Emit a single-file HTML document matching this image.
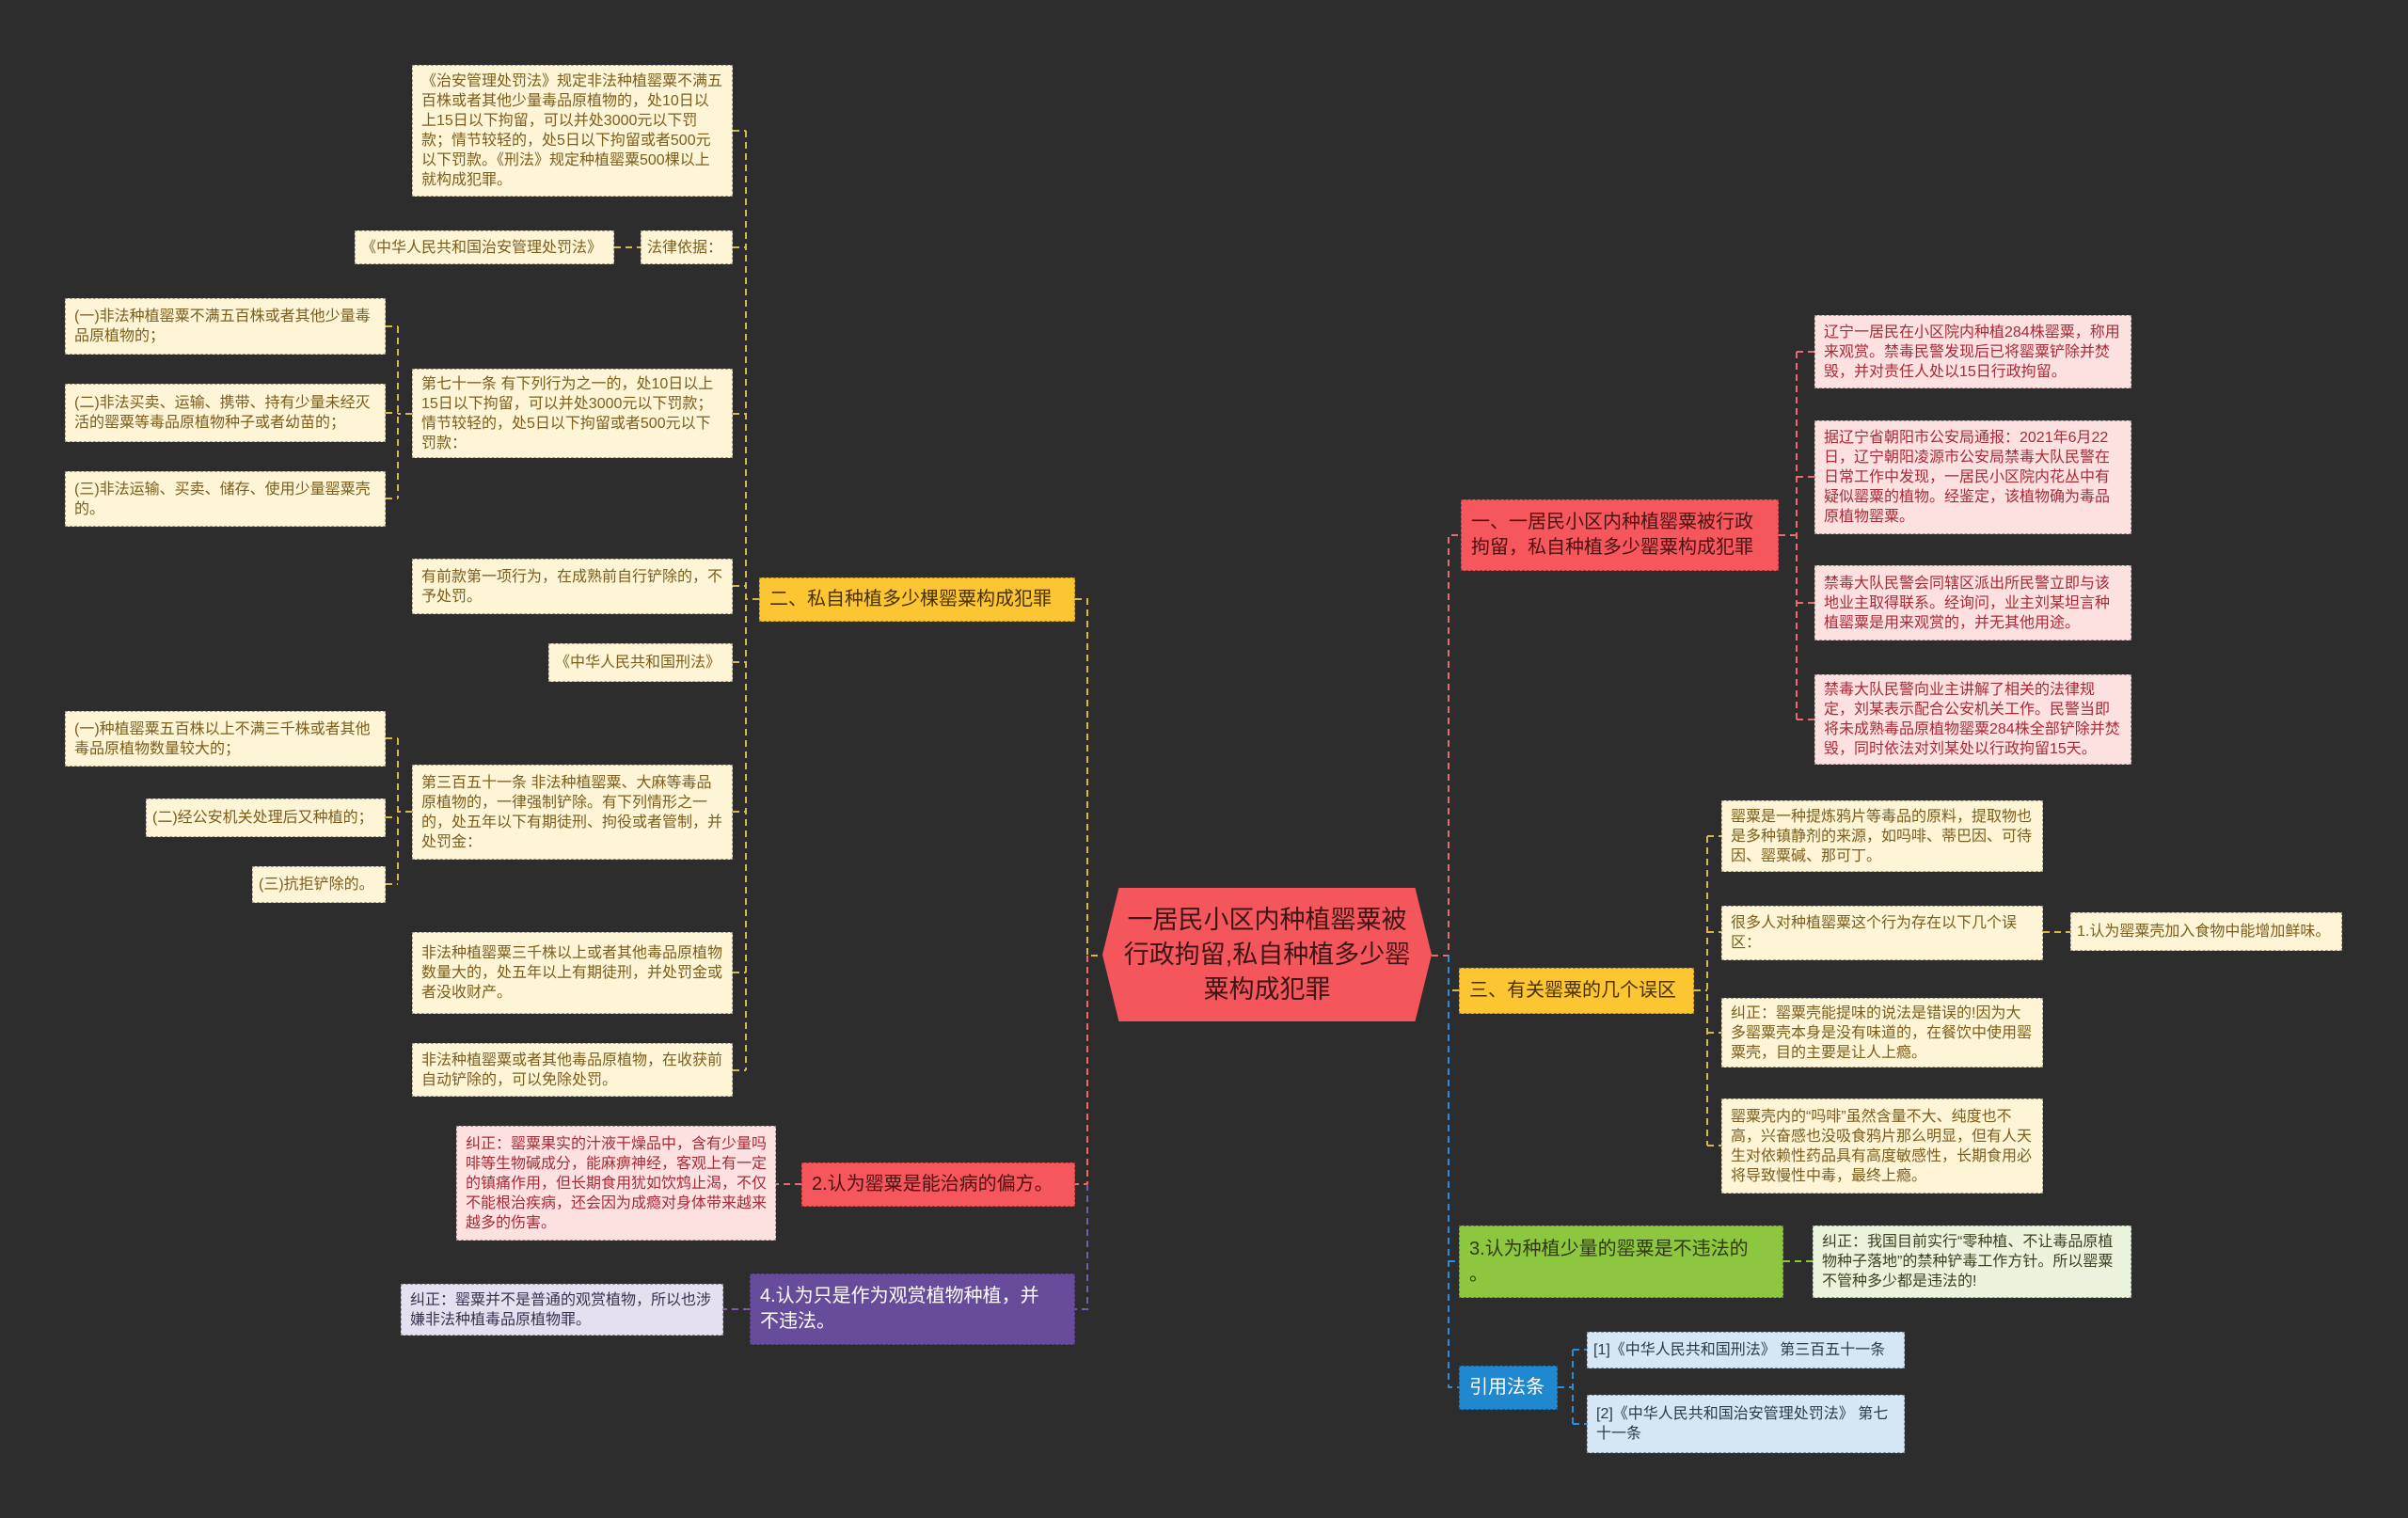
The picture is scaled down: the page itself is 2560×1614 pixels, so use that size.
<!DOCTYPE html>
<html><head><meta charset="utf-8"><style>
body{margin:0;width:2560px;height:1614px;background:#2d2d2d;position:relative;overflow:hidden;font-family:"Liberation Sans","Noto Sans CJK SC",sans-serif}
.b{position:absolute;box-sizing:border-box;padding:6px 9px;font-size:16px;line-height:21px;border:1px dashed rgba(0,0,0,.35);display:flex;align-items:center}
.n{white-space:nowrap;padding:0 6px}
.c{background:#fdf5d6;color:#7c5d1c}
.p{background:#fde1e1;color:#a82a36}
.m{font-size:20px;line-height:27px;padding:6px 10px}
.y{background:#fbc632;color:#4a3000}
.r{background:#f5575c;color:#4a1212}
svg{position:absolute;left:0;top:0}
</style></head><body>
<svg width="2560" height="1614" fill="none" stroke-width="2" stroke-dasharray="7,5">
<g stroke="#d9b84a">
<path d="M1143 637H1156V1016H1172"/>
<path d="M807 637H793M793 139V1138M779 139H793M779 263H793M779 440H793M779 623H793M779 704H793M779 863H793M779 1034H793M779 1138H793"/>
<path d="M653 263H681"/>
<path d="M438 440H423M423 347V530M410 347H423M410 439H423M410 530H423"/>
<path d="M438 863H423M423 785V940M410 785H423M410 869H423M410 940H423"/>
<path d="M1551 1053H1540M1801 1053H1815M1815 889V1218M1815 889H1830M1815 991H1830M1815 1098H1830M1815 1218H1830M2172 991H2201"/>
</g>
<g stroke="#e86a6a"><path d="M1156 1016V1259H1143M852 1259H825"/><path d="M1522 1016H1540V569H1553M1891 569H1910M1910 374V765M1910 374H1929M1910 507H1929M1910 641H1929M1910 765H1929"/></g>
<g stroke="#7a5ab0"><path d="M1156 1259V1392H1143M797 1392H769"/></g>
<g stroke="#8dc63f"><path d="M1896 1341H1927"/></g>
<g stroke="#2a8ed6"><path d="M1540 1016V1475H1551M1656 1475H1672M1672 1435V1514M1672 1435H1687M1672 1514H1687M1540 1341H1551"/></g>
</svg>

<div style="position:absolute;left:1172px;top:944px;width:350px;height:142px;background:#f5565b;clip-path:polygon(5% 0,95% 0,100% 50%,95% 100%,5% 100%,0 50%);display:flex;align-items:center;justify-content:center;text-align:center;font-size:27px;line-height:37px;color:#3a1616;padding:0 22px;box-sizing:border-box">一居民小区内种植罂粟被行政拘留,私自种植多少罂粟构成犯罪</div>

<div class="b c" style="left:438px;top:69px;width:341px;height:140px">《治安管理处罚法》规定非法种植罂粟不满五百株或者其他少量毒品原植物的，处10日以上15日以下拘留，可以并处3000元以下罚款；情节较轻的，处5日以下拘留或者500元以下罚款。《刑法》规定种植罂粟500棵以上就构成犯罪。</div>
<div class="b c n" style="left:377px;top:245px;width:276px;height:36px">《中华人民共和国治安管理处罚法》</div>
<div class="b c n" style="left:681px;top:245px;width:98px;height:36px">法律依据：</div>
<div class="b c" style="left:69px;top:317px;width:341px;height:60px">(一)非法种植罂粟不满五百株或者其他少量毒品原植物的；</div>
<div class="b c" style="left:69px;top:408px;width:341px;height:62px">(二)非法买卖、运输、携带、持有少量未经灭活的罂粟等毒品原植物种子或者幼苗的；</div>
<div class="b c" style="left:69px;top:501px;width:341px;height:59px">(三)非法运输、买卖、储存、使用少量罂粟壳的。</div>
<div class="b c" style="left:438px;top:392px;width:341px;height:95px">第七十一条 有下列行为之一的，处10日以上15日以下拘留，可以并处3000元以下罚款；情节较轻的，处5日以下拘留或者500元以下罚款：</div>
<div class="b c" style="left:438px;top:594px;width:341px;height:59px">有前款第一项行为，在成熟前自行铲除的，不予处罚。</div>
<div class="b c n" style="left:583px;top:684px;width:196px;height:41px">《中华人民共和国刑法》</div>
<div class="b c" style="left:69px;top:756px;width:341px;height:59px">(一)种植罂粟五百株以上不满三千株或者其他毒品原植物数量较大的；</div>
<div class="b c n" style="left:155px;top:849px;width:255px;height:41px">(二)经公安机关处理后又种植的；</div>
<div class="b c n" style="left:268px;top:921px;width:142px;height:39px">(三)抗拒铲除的。</div>
<div class="b c" style="left:438px;top:813px;width:341px;height:101px">第三百五十一条 非法种植罂粟、大麻等毒品原植物的，一律强制铲除。有下列情形之一的，处五年以下有期徒刑、拘役或者管制，并处罚金：</div>
<div class="b c" style="left:438px;top:991px;width:341px;height:87px">非法种植罂粟三千株以上或者其他毒品原植物数量大的，处五年以上有期徒刑，并处罚金或者没收财产。</div>
<div class="b c" style="left:438px;top:1109px;width:341px;height:57px">非法种植罂粟或者其他毒品原植物，在收获前自动铲除的，可以免除处罚。</div>
<div class="b m y n" style="left:807px;top:614px;width:336px;height:47px;padding:0 10px">二、私自种植多少棵罂粟构成犯罪</div>

<div class="b p" style="left:485px;top:1197px;width:340px;height:122px">纠正：罂粟果实的汁液干燥品中，含有少量吗啡等生物碱成分，能麻痹神经，客观上有一定的镇痛作用，但长期食用犹如饮鸩止渴，不仅不能根治疾病，还会因为成瘾对身体带来越来越多的伤害。</div>
<div class="b m r n" style="left:852px;top:1236px;width:291px;height:47px;padding:0 10px">2.认为罂粟是能治病的偏方。</div>
<div class="b" style="left:426px;top:1365px;width:343px;height:55px;background:#e4e0ef;color:#3a3050">纠正：罂粟并不是普通的观赏植物，所以也涉嫌非法种植毒品原植物罪。</div>
<div class="b m" style="left:797px;top:1354px;width:346px;height:76px;background:#684c9c;color:#fff">4.认为只是作为观赏植物种植，并<br>不违法。</div>

<div class="b m r" style="left:1553px;top:531px;width:338px;height:76px">一、一居民小区内种植罂粟被行政拘留，私自种植多少罂粟构成犯罪</div>
<div class="b p" style="left:1929px;top:335px;width:337px;height:78px">辽宁一居民在小区院内种植284株罂粟，称用来观赏。禁毒民警发现后已将罂粟铲除并焚毁，并对责任人处以15日行政拘留。</div>
<div class="b p" style="left:1929px;top:447px;width:337px;height:121px">据辽宁省朝阳市公安局通报：2021年6月22日，辽宁朝阳凌源市公安局禁毒大队民警在日常工作中发现，一居民小区院内花丛中有疑似罂粟的植物。经鉴定，该植物确为毒品原植物罂粟。</div>
<div class="b p" style="left:1929px;top:601px;width:337px;height:80px">禁毒大队民警会同辖区派出所民警立即与该地业主取得联系。经询问，业主刘某坦言种植罂粟是用来观赏的，并无其他用途。</div>
<div class="b p" style="left:1929px;top:717px;width:337px;height:96px">禁毒大队民警向业主讲解了相关的法律规定，刘某表示配合公安机关工作。民警当即将未成熟毒品原植物罂粟284株全部铲除并焚毁，同时依法对刘某处以行政拘留15天。</div>

<div class="b m y n" style="left:1551px;top:1029px;width:250px;height:49px;padding:0 10px">三、有关罂粟的几个误区</div>
<div class="b c" style="left:1830px;top:851px;width:342px;height:76px">罂粟是一种提炼鸦片等毒品的原料，提取物也是多种镇静剂的来源，如吗啡、蒂巴因、可待因、罂粟碱、那可丁。</div>
<div class="b c" style="left:1830px;top:963px;width:342px;height:58px">很多人对种植罂粟这个行为存在以下几个误区：</div>
<div class="b c n" style="left:2201px;top:970px;width:289px;height:41px">1.认为罂粟壳加入食物中能增加鲜味。</div>
<div class="b c" style="left:1830px;top:1061px;width:342px;height:74px">纠正：罂粟壳能提味的说法是错误的!因为大多罂粟壳本身是没有味道的，在餐饮中使用罂粟壳，目的主要是让人上瘾。</div>
<div class="b c" style="left:1830px;top:1168px;width:342px;height:101px">罂粟壳内的“吗啡”虽然含量不大、纯度也不高，兴奋感也没吸食鸦片那么明显，但有人天生对依赖性药品具有高度敏感性，长期食用必将导致慢性中毒，最终上瘾。</div>

<div class="b m" style="left:1551px;top:1303px;width:345px;height:77px;background:#8dc63f;color:#2f3a10">3.认为种植少量的罂粟是不违法的<br>。</div>
<div class="b" style="left:1927px;top:1303px;width:339px;height:77px;background:#eaf4dc;color:#3a4020">纠正：我国目前实行“零种植、不让毒品原植物种子落地”的禁种铲毒工作方针。所以罂粟不管种多少都是违法的!</div>

<div class="b m n" style="left:1551px;top:1452px;width:105px;height:47px;background:#1f88cf;color:#fff;padding:0 10px">引用法条</div>
<div class="b n" style="left:1687px;top:1416px;width:338px;height:39px;background:#d5e7f5;color:#2a3a4a">[1]《中华人民共和国刑法》 第三百五十一条</div>
<div class="b" style="left:1687px;top:1483px;width:338px;height:62px;background:#d5e7f5;color:#2a3a4a">[2]《中华人民共和国治安管理处罚法》 第七十一条</div>
</body></html>
